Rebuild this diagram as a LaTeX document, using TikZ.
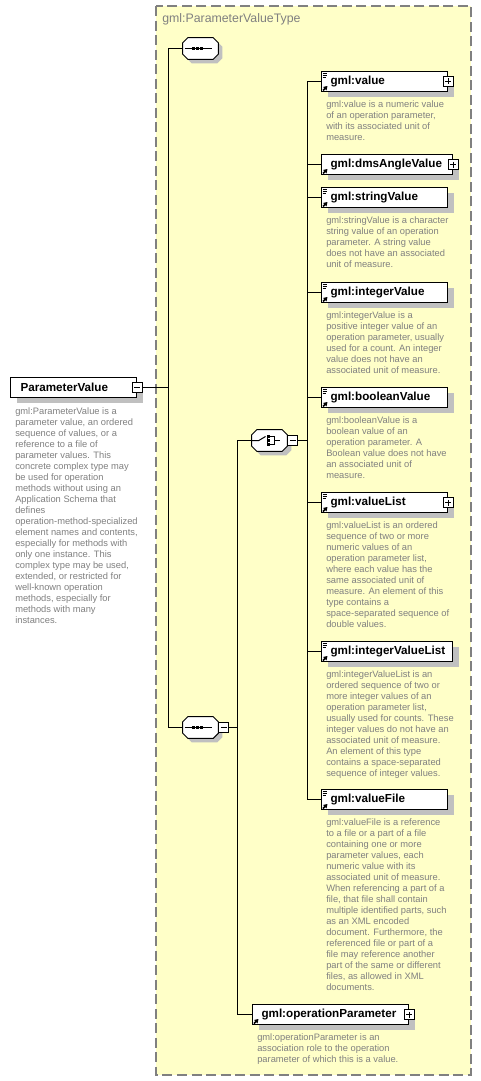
\documentclass[tikz,border=0pt]{standalone}
\usepackage{fontspec}
\setmainfont{Liberation Sans}
\usetikzlibrary{shadows,arrows.meta}
\definecolor{bgyellow}{RGB}{255,255,200}
\definecolor{bordergray}{RGB}{128,128,128}
\definecolor{desc}{RGB}{128,128,128}
\definecolor{shadowc}{RGB}{192,192,192}
\newcommand\octpath[2]{([shift={(#2+5,#2)}]#1.north west) -- ([shift={(#2-5,#2)}]#1.north east) -- ([shift={(#2,#2+5)}]#1.north east) -- ([shift={(#2,#2-5)}]#1.south east) -- ([shift={(#2-5,#2)}]#1.south east) -- ([shift={(#2+5,#2)}]#1.south west) -- ([shift={(#2,#2-5)}]#1.south west) -- ([shift={(#2,#2+5)}]#1.north west) -- cycle}
\newcommand\docicon[1]{\draw[line width=0.7pt] ([shift={(1.5,2)}]#1.north west) -- ++(4.5,0) ([shift={(1.5,4)}]#1.north west) -- ++(4.5,0) ([shift={(1.5,6)}]#1.north west) -- ++(3.5,0);}
\newcommand\reficon[1]{\draw[line width=1.1pt, -{Triangle[length=2.8pt,width=3.4pt]}] ([shift={(2,-1.5)}]#1.south west) -- ++(4.5,-4.5);}
\tikzset{
  lw/.style={line width=0.75pt},
  elem/.style={draw, fill=white, line width=0.75pt, anchor=north west, minimum height=15pt,
    inner xsep=6.75pt, inner ysep=1pt, align=left,
    font=\fontsize{8.75}{9.5}\selectfont\bfseries,
    drop shadow={shadow xshift=4.5pt, shadow yshift=-3.75pt, fill=shadowc, opacity=1}},
  descr/.style={anchor=north west, inner sep=0pt, align=left, text=desc, font=\fontsize{7}{8.25}\selectfont},
  pmbox/.style={draw, fill=white, line width=0.75pt, minimum size=7.5pt, inner sep=0pt},
  plusbox/.style={pmbox, path picture={\draw[line width=0.75pt]
      ([xshift=1.5pt]path picture bounding box.west) -- ([xshift=-1.5pt]path picture bounding box.east)
      ([yshift=-1.5pt]path picture bounding box.north) -- ([yshift=1.5pt]path picture bounding box.south);}},
  minusbox/.style={pmbox, path picture={\draw[line width=0.75pt]
      ([xshift=1.5pt]path picture bounding box.west) -- ([xshift=-1.5pt]path picture bounding box.east);}},
  seqnode/.style={rectangle, minimum width=26.25pt, minimum height=15.75pt, inner sep=0pt},
}
\begin{document}
\begin{tikzpicture}[x=0.75pt,y=-0.75pt]
\useasboundingbox (0,0) rectangle (481,1081);
\fill[white] (0,0) rectangle (481,1081);
\filldraw[fill=bgyellow, draw=bordergray, line width=1pt, dash pattern=on 7.5pt off 3.4pt] (156,6) rectangle (471,1075);
\node[anchor=west, text=bordergray, font=\fontsize{9.25}{11}\selectfont, inner sep=0pt] (title) at (162,19) {gml:ParameterValueType};

% compositor nodes
\node[seqnode] (tsq) at (200.5,48.5) {};
\node[seqnode] (bsq) at (200.5,727.5) {};
\node[seqnode] (ch) at (269.5,440.5) {};
\foreach \o in {tsq,bsq,ch}{
  \fill[shadowc] \octpath{\o}{4};
  \filldraw[fill=white, line width=0.75pt] \octpath{\o}{0};
}
% sequence icons
\foreach \o in {tsq,bsq}{
  \draw[lw] ([xshift=-12]\o.center) -- ([xshift=8.5]\o.center);
  \foreach \dx in {-7,-3,1} \fill ([shift={(\dx-1.5,-1.5)}]\o.center) rectangle ++(3,3);
}
% choice icon
\draw[lw] ([xshift=-13]ch.center) -- ([xshift=-8]ch.center) -- ([shift={(-4,-4)}]ch.center);
\draw[lw] ([shift={(-1,-4)}]ch.center) -- ([shift={(5,-4)}]ch.center) -- ([shift={(5,4)}]ch.center) -- ([shift={(-1,4)}]ch.center);
\draw[lw] ([shift={(5,0)}]ch.center) -- ([shift={(10,0)}]ch.center);
\draw[line width=0.5pt] ([shift={(-2,-4)}]ch.center) -- ([shift={(-2,4)}]ch.center);
\foreach \dy in {-4,0,4} \fill ([shift={(-2.5,\dy-1.5)}]ch.center) rectangle ++(3,3);

\node[minusbox, anchor=west] (bsqm) at (bsq.east) {};
\node[minusbox, anchor=west] (chm) at (ch.east) {};

% root element
\node[elem, text width=79.5pt, inner xsep=7.5pt] (pv) at (10,377) {ParameterValue};
\node[minusbox] (pvm) at (pv.east) {};
\node[descr] (pvd) at (15,407) {gml:ParameterValue is a\\parameter value, an ordered\\sequence of values, or a\\reference to a file of\\parameter values. This\\concrete complex type may\\be used for operation\\methods without using an\\Application Schema that\\defines\\operation-method-specialized\\element names and contents,\\especially for methods with\\only one instance. This\\complex type may be used,\\extended, or restricted for\\well-known operation\\methods, especially for\\methods with many\\instances.};

% child elements
\node[elem, text width=81pt] (e1) at (321,71) {gml:value};
\node[plusbox] (e1p) at (e1.east) {};
\node[descr] (d1) at (326,100) {gml:value is a numeric value\\of an operation parameter,\\with its associated unit of\\measure.};

\node[elem, text width=84.75pt] (e2) at (321,154) {gml:dmsAngleValue};
\node[plusbox] (e2p) at (e2.east) {};

\node[elem, text width=81pt] (e3) at (321,187) {gml:stringValue};
\node[descr] (d3) at (326,216) {gml:stringValue is a character\\string value of an operation\\parameter. A string value\\does not have an associated\\unit of measure.};

\node[elem, text width=81pt] (e4) at (321,282) {gml:integerValue};
\node[descr] (d4) at (326,311) {gml:integerValue is a\\positive integer value of an\\operation parameter, usually\\used for a count. An integer\\value does not have an\\associated unit of measure.};

\node[elem, text width=81pt] (e5) at (321,387) {gml:booleanValue};
\node[descr] (d5) at (326,416) {gml:booleanValue is a\\boolean value of an\\operation parameter. A\\Boolean value does not have\\an associated unit of\\measure.};

\node[elem, text width=81pt] (e6) at (321,492) {gml:valueList};
\node[plusbox] (e6p) at (e6.east) {};
\node[descr] (d6) at (326,521) {gml:valueList is an ordered\\sequence of two or more\\numeric values of an\\operation parameter list,\\where each value has the\\same associated unit of\\measure. An element of this\\type contains a\\space-separated sequence of\\double values.};

\node[elem, text width=84.75pt] (e7) at (321,641) {gml:integerValueList};
\node[descr] (d7) at (326,670) {gml:integerValueList is an\\ordered sequence of two or\\more integer values of an\\operation parameter list,\\usually used for counts. These\\integer values do not have an\\associated unit of measure.\\An element of this type\\contains a space-separated\\sequence of integer values.};

\node[elem, text width=81pt] (e8) at (321,789) {gml:valueFile};
\node[descr] (d8) at (326,818) {gml:valueFile is a reference\\to a file or a part of a file\\containing one or more\\parameter values, each\\numeric value with its\\associated unit of measure.\\When referencing a part of a\\file, that file shall contain\\multiple identified parts, such\\as an XML encoded\\document. Furthermore, the\\referenced file or part of a\\file may reference another\\part of the same or different\\files, as allowed in XML\\documents.};

\node[elem, text width=103.5pt] (op) at (252,1004) {gml:operationParameter};
\node[plusbox] (opp) at (op.east) {};
\node[descr] (dop) at (257,1033) {gml:operationParameter is an\\association role to the operation\\parameter of which this is a value.};

% icons
\foreach \e in {e1,e3,e4,e5,e6,e7,e8} \docicon{\e};
\foreach \e in {e1,e2,e3,e4,e5,e6,e7,e8,op} \reficon{\e};

% connectors
\coordinate (v1) at (168,0);
\coordinate (v2) at (237,0);
\coordinate (v3) at (307,0);
\draw[lw] (tsq.west) -- (tsq.west -| v1) -- (bsq.west -| v1) -- (bsq.west);
\draw[lw] (pvm.east) -- (pvm.east -| v1);
\draw[lw] (bsqm.east) -- (bsqm.east -| v2);
\draw[lw] (ch.west) -- (ch.west -| v2) -- (op.west -| v2) -- (op.west);
\draw[lw] (chm.east) -- (chm.east -| v3);
\draw[lw] (e1.west) -- (e1.west -| v3) -- (e8.west -| v3) -- (e8.west);
\foreach \n in {e2,e3,e4,e5,e6,e7} \draw[lw] (\n.west) -- (\n.west -| v3);
\end{tikzpicture}
\end{document}
